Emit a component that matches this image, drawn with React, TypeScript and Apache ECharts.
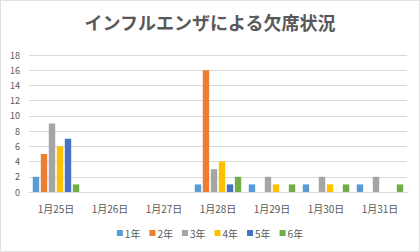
import React, { useEffect, useRef } from "react";
import * as echarts from "echarts";

const categories = ["1月25日", "1月26日", "1月27日", "1月28日", "1月29日", "1月30日", "1月31日"];
const seriesNames = ["1年", "2年", "3年", "4年", "5年", "6年"];
const grade1 = [2, 0, 0, 1, 1, 1, 1];
const grade2 = [5, 0, 0, 16, 0, 0, 0];
const grade3 = [9, 0, 0, 3, 2, 2, 2];
const grade4 = [6, 0, 0, 4, 1, 1, 0];
const grade5 = [7, 0, 0, 1, 0, 0, 0];
const grade6 = [1, 0, 0, 2, 1, 1, 1];
const seriesValues = [grade1, grade2, grade3, grade4, grade5, grade6];
const colors = ["#5B9BD5", "#ED7D31", "#A5A5A5", "#FFC000", "#4472C4", "#70AD47"];

export default function App() {
  const ref = useRef<HTMLDivElement>(null);
  useEffect(() => {
    document.body.style.margin = "0";
    const chart = echarts.init(ref.current!, null, { renderer: "svg" });
    const font = "'Noto Sans CJK JP', 'Noto Sans', sans-serif";
    chart.setOption({
      animation: false,
      backgroundColor: "#ffffff",
      title: {
        text: "インフルエンザによる欠席状況",
        left: "center",
        top: 7,
        textStyle: { fontFamily: font, fontSize: 18, fontWeight: "bold", color: "#595959" },
      },
      legend: {
        data: seriesNames,
        bottom: 8,
        left: "center",
        itemWidth: 6,
        itemHeight: 6,
        itemGap: 9,
        icon: "rect",
        textStyle: { fontFamily: font, fontSize: 10, color: "#595959", padding: [0, 0, 0, -3] },
      },
      grid: { left: 28, right: 12, top: 54, bottom: 59 },
      xAxis: {
        type: "category",
        data: categories,
        axisLine: { show: true, lineStyle: { color: "#D9D9D9" } },
        axisTick: { show: false },
        axisLabel: { fontFamily: font, fontSize: 10, color: "#595959", margin: 11 },
      },
      yAxis: {
        type: "value",
        min: 0,
        max: 18,
        interval: 2,
        axisLine: { show: false },
        axisTick: { show: false },
        splitLine: { lineStyle: { color: "#D9D9D9" } },
        axisLabel: { fontFamily: font, fontSize: 9, color: "#595959", margin: 9 },
      },
      series: seriesValues.map((vals, i) => ({
        name: seriesNames[i],
        type: "bar",
        data: vals,
        barGap: "25%",
        barCategoryGap: "14%",
        itemStyle: { color: colors[i] },
      })),
      color: colors,
    });
    return () => chart.dispose();
  }, []);
  return (
    <div
      style={{
        position: "fixed",
        left: 0,
        top: 0,
        width: 420,
        height: 252,
        boxSizing: "border-box",
        border: "1px solid #E0E0E0",
        background: "#fff",
      }}
    >
      <div ref={ref} style={{ width: 418, height: 250 }} />
    </div>
  );
}
